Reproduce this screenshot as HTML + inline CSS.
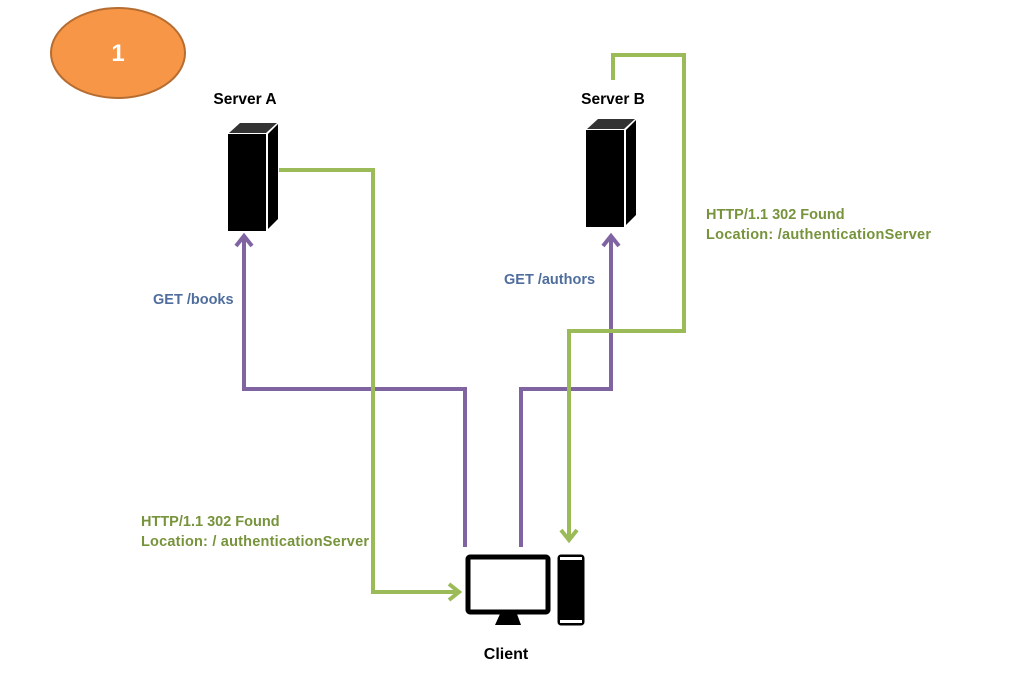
<!DOCTYPE html>
<html><head><style>
body{margin:0;width:1013px;height:675px;background:#fff;overflow:hidden;font-family:"Liberation Sans",sans-serif;}
</style></head><body>
<svg width="1013" height="675" xmlns="http://www.w3.org/2000/svg">
<ellipse cx="118" cy="53" rx="67" ry="45" fill="#f79646" stroke="#b66d31" stroke-width="2"/>
<text x="118" y="61" text-anchor="middle" font-size="24" font-weight="bold" fill="#fff">1</text>
<text x="245" y="104" text-anchor="middle" font-size="15.5" font-weight="bold">Server A</text>
<text x="613" y="104" text-anchor="middle" font-size="15.5" font-weight="bold">Server B</text>
<text x="506" y="659" text-anchor="middle" font-size="16" font-weight="bold">Client</text>
<g>
<polygon points="229,133 240,123 277,123 266,133" fill="#333"/>
<rect x="228" y="134" width="38" height="97" fill="#000"/>
<polygon points="268,134 278,124 278,219 268,229" fill="#000"/>
</g>
<g transform="translate(358,-4)">
<polygon points="229,133 240,123 277,123 266,133" fill="#333"/>
<rect x="228" y="134" width="38" height="97" fill="#000"/>
<polygon points="268,134 278,124 278,219 268,229" fill="#000"/>
</g>
<rect x="468" y="557" width="80" height="55" rx="2" fill="#fff" stroke="#000" stroke-width="5"/>
<polygon points="500,614 517,614 521,625 495,625" fill="#000"/>
<rect x="558" y="555" width="26" height="70" rx="3" fill="#000" stroke="#000" stroke-width="1"/>
<rect x="560" y="557" width="22" height="3" fill="#fff"/>
<rect x="560" y="620" width="22" height="3" fill="#fff"/>
<g fill="none" stroke="#8064a2" stroke-width="4">
<polyline points="465,547 465,389 244,389 244,238"/>
<polyline points="521,547 521,389 611,389 611,238"/>
<polyline points="236,246 244,236 252,246"/>
<polyline points="603,246 611,236 619,246"/>
</g>
<g fill="none" stroke="#9bbb59" stroke-width="4">
<polyline points="279,170 373,170 373,592 458,592"/>
<polyline points="449,584 459,592 449,600"/>
<polyline points="613,80 613,55 684,55 684,331 569,331 569,540"/>
<polyline points="561,530 569,540 577,530"/>
</g>
<g font-size="14.5" font-weight="bold">
<text x="153" y="304" fill="#4f6e9e">GET /books</text>
<text x="504" y="284" fill="#4f6e9e">GET /authors</text>
<text x="706" y="219" fill="#77933c">HTTP/1.1 302 Found</text>
<text x="706" y="239" fill="#77933c" textLength="225">Location: /authenticationServer</text>
<text x="141" y="526" fill="#77933c">HTTP/1.1 302 Found</text>
<text x="141" y="546" fill="#77933c" textLength="228">Location: / authenticationServer</text>
</g>
</svg>
</body></html>
